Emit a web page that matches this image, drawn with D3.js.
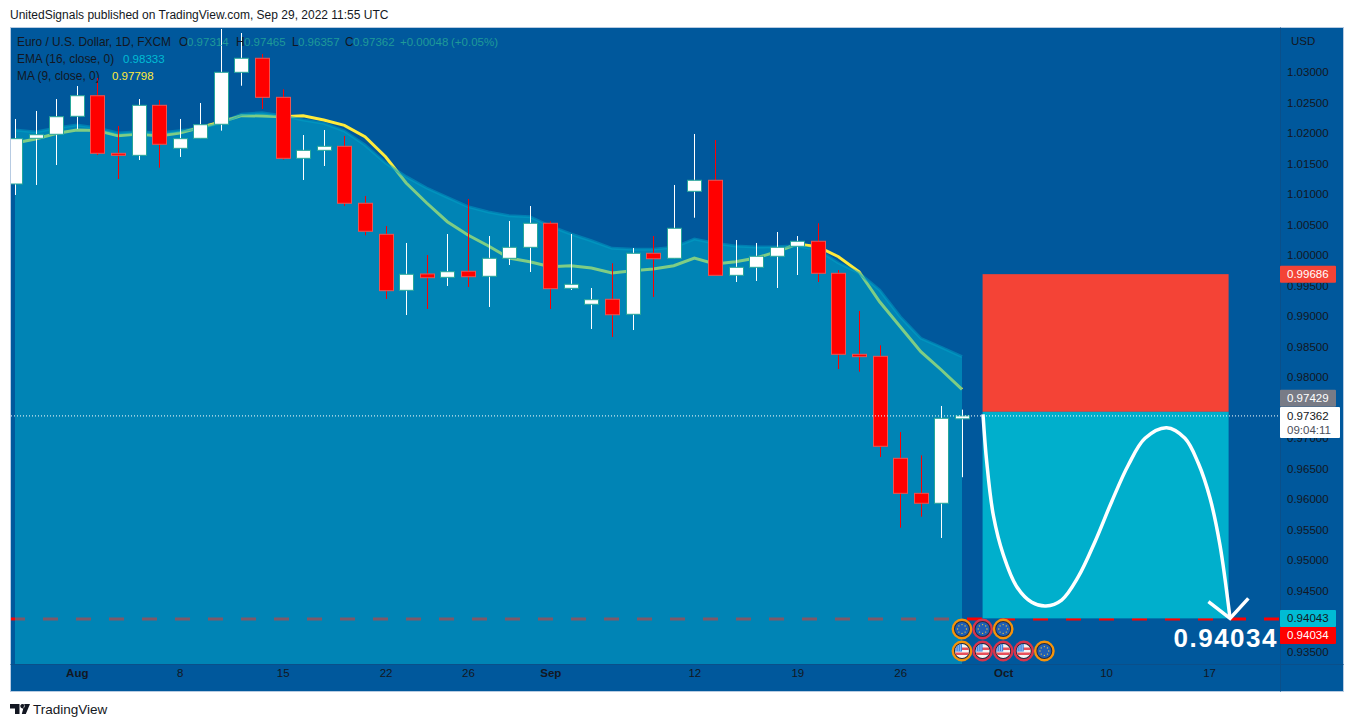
<!DOCTYPE html>
<html>
<head>
<meta charset="utf-8">
<script src="https://cdn.jsdelivr.net/npm/d3@7"></script>
<style>
html,body{margin:0;padding:0;background:#fff;overflow:hidden}
svg{display:block}
svg text{font-family:"Liberation Sans",Arial,sans-serif}
</style>
</head>
<body>
<div class="canvas"></div>
<script>
// trading days shown on the chart
const dates = ['Jul 27','Jul 28','Jul 29','Aug 1','Aug 2','Aug 3','Aug 4','Aug 5','Aug 8','Aug 9','Aug 10','Aug 11','Aug 12','Aug 15','Aug 16','Aug 17','Aug 18','Aug 19','Aug 22','Aug 23','Aug 24','Aug 25','Aug 26','Aug 29','Aug 30','Aug 31','Sep 1','Sep 2','Sep 5','Sep 6','Sep 7','Sep 8','Sep 9','Sep 12','Sep 13','Sep 14','Sep 15','Sep 16','Sep 19','Sep 20','Sep 21','Sep 22','Sep 23','Sep 26','Sep 27','Sep 28','Sep 29'];
const futureDates = ['Sep 30','Oct 3','Oct 4','Oct 5','Oct 6','Oct 7','Oct 10','Oct 11','Oct 12','Oct 13','Oct 14','Oct 17','Oct 18','Oct 19','Oct 20','Oct 21'];

const opens  = [1.01164,1.01913,1.01979,1.02274,1.02611,1.01667,1.01634,1.02454,1.01749,1.01913,1.02143,1.02995,1.03225,1.02585,1.01585,1.01716,1.01782,1.00848,1.00339,0.99421,0.99689,0.99634,0.99733,0.99651,0.99946,1.00126,1.0052,0.99454,0.99192,0.99274,0.99028,1.00028,0.99946,1.01044,1.01225,0.99667,0.99798,0.99979,1.00143,1.00225,0.997,0.98372,0.98339,0.96667,0.96093,0.9593,0.97314];
const highs  = [1.0223,1.02361,1.02557,1.0277,1.02902,1.02115,1.02557,1.02541,1.0223,1.02492,1.03705,1.03639,1.03295,1.02716,1.01967,1.02049,1.01951,1.00967,1.00475,1.00197,1.0,1.00344,1.00918,1.00311,1.00557,1.00803,1.00552,1.00344,0.99459,0.99864,1.00115,1.00311,1.01148,1.01984,1.01885,1.00246,1.00197,1.00377,1.00311,1.0052,0.99754,0.99082,0.9852,0.97098,0.96716,0.97525,0.97465];
const lows   = [1.00984,1.01148,1.01475,1.02066,1.01639,1.01246,1.01557,1.01431,1.01607,1.01913,1.02038,1.02775,1.02393,1.01562,1.0123,1.01459,1.00803,1.00323,0.99279,0.99016,0.99115,0.99492,0.99475,0.99148,0.99836,0.99721,0.99115,0.99426,0.98787,0.98656,0.9877,0.99311,0.99946,1.00611,0.99667,0.99557,0.99574,0.99459,0.99672,0.99557,0.98131,0.98087,0.96689,0.9553,0.9571,0.95361,0.96357];
const closes = [1.01907,1.01972,1.02267,1.02611,1.01667,1.01634,1.02454,1.01815,1.01907,1.02136,1.02995,1.03225,1.02585,1.01585,1.01716,1.01782,1.00848,1.00389,0.99415,0.99684,0.99628,0.99726,0.99644,0.99946,1.00126,1.0052,0.99448,0.9952,0.99267,0.99021,1.00028,0.99939,1.00438,1.01225,0.99667,0.99798,0.99979,1.00126,1.00225,0.997,0.98372,0.98333,0.96864,0.96093,0.9593,0.97323,0.97362];

const ema = [1.02049,1.02016,1.02082,1.02131,1.02082,1.02,1.02021,1.02,1.02038,1.02082,1.02164,1.02307,1.02333,1.02284,1.02213,1.02159,1.02033,1.01803,1.01508,1.01284,1.01098,1.00946,1.00792,1.00705,1.00644,1.00628,1.00475,1.00344,1.00234,1.0011,1.00093,1.00093,1.00126,1.00262,1.00192,1.00148,1.00131,1.00136,1.00152,1.00085,0.99869,0.99705,0.99426,0.98989,0.98634,0.98487,0.98333];
const ma  = [1.01836,1.01902,1.01992,1.02049,1.02041,1.01956,1.01984,1.01951,1.02,1.0209,1.0218,1.02284,1.02279,1.02267,1.02284,1.02213,1.02126,1.01939,1.01611,1.0118,1.00852,1.00546,1.00328,1.00148,0.99951,0.9989,0.99808,0.99825,0.99787,0.99705,0.99743,0.9977,0.99825,0.99951,0.99852,0.9989,0.99951,1.00054,1.0018,1.00136,0.99972,0.99726,0.99234,0.98825,0.98415,0.98115,0.97798];

// 0.975 and 0.94 are fully covered by the price labels, so they are left out
const priceTicks = [1.03,1.025,1.02,1.015,1.01,1.005,1,0.995,0.99,0.985,0.98,0.97,0.965,0.96,0.955,0.95,0.945,0.935];
const timeTicks = ['Aug 1','Aug 8','Aug 15','Aug 22','Aug 26','Sep 1','Sep 12','Sep 19','Sep 26','Oct 3','Oct 10','Oct 17'];
const timeLabels = ['Aug','8','15','22','26','Sep','12','19','26','Oct','10','17'];

// short position drawing
const entry = 0.97429, stopLoss = 0.99686, target = 0.94043, targetLine = 0.94034, lastPrice = 0.97362;
const posFrom = 47, posTo = 58.95;

// hand drawn curve, bar index / price
const curveBars   = [47.02,47.2,47.52,48.01,48.66,49.39,50.08,50.84,51.65,52.46,53.27,54.08,54.89,55.94,56.83,57.48,58.05,58.53,59.02];
const curvePrices = [0.97389,0.96611,0.95738,0.95082,0.94562,0.94307,0.94246,0.94344,0.94726,0.953,0.95956,0.96557,0.96995,0.97169,0.96995,0.96585,0.96011,0.95246,0.94044];
const arrowBars   = [57.97,59.02,59.91];
const arrowPrices = [0.94316,0.94044,0.94372];

// economic event badges
const euEvents = ['Sep 29','Sep 30','Oct 3','Oct 5'];
const euRing   = ['#f5930a','#d8344c','#f5930a','#f5930a'];
const euRow    = [0,0,0,1];
const usEvents = ['Sep 29','Sep 30','Oct 3','Oct 4'];
const usRing   = ['#f5930a','#d8344c','#d8344c','#d8344c'];

const width = 1354, height = 727;
const pane = {left:11, right:1280, top:28, bottom:664};
const frame = {left:10.5, right:1343.5, top:27.5, bottom:691.5};
const BG = '#00589c', TEXT = '#131722';
const FONT = 11.5;

const svg = d3.select('.canvas').append('svg')
    .attr('width',width)
    .attr('height',height);

const allDates = dates.concat(futureDates);
const x = d3.scaleLinear().domain([0,46]).range([15,962]);
const xDate = d3.scalePoint().domain(allDates).range([x(0),x(allDates.length-1)]);
const y = d3.scaleLinear().domain([1.03,0.935]).range([72,651.5]);
const bars = dates.map((d,i) => ({date:d,i:i,o:opens[i],h:highs[i],l:lows[i],c:closes[i]}));

// header and frame
svg.append('text').attr('x',10).attr('y',19).attr('font-size',12).attr('fill',TEXT)
    .text('UnitedSignals published on TradingView.com, Sep 29, 2022 11:55 UTC');

svg.append('rect')
    .attr('x',frame.left).attr('y',frame.top)
    .attr('width',frame.right-frame.left).attr('height',frame.bottom-frame.top)
    .attr('fill',BG).attr('stroke','#b7cbe2');

const defs = svg.append('defs');
defs.append('clipPath').attr('id','paneClip').append('rect')
    .attr('x',pane.left).attr('y',pane.top)
    .attr('width',pane.right-pane.left).attr('height',pane.bottom-pane.top);
defs.append('clipPath').attr('id','badgeClip').append('circle').attr('r',7);

const chart = svg.append('g').attr('clip-path','url(#paneClip)');

// target line and MA sit under the EMA fill, that is what turns them green
chart.append('line')
    .attr('x1',pane.left).attr('x2',pane.right)
    .attr('y1',y(targetLine)).attr('y2',y(targetLine))
    .attr('stroke','#ff0000').attr('stroke-width',3)
    .attr('stroke-dasharray','15 18').attr('stroke-dashoffset',1);

const valueLine = d3.line().x((d,i) => x(i)).y(d => y(d));
chart.append('path').datum(ma)
    .attr('d',valueLine)
    .attr('fill','none').attr('stroke','#ffeb3b').attr('stroke-width',3);

const emaArea = d3.area().x((d,i) => x(i)).y0(pane.bottom).y1(d => y(d));
chart.append('path').datum(ema)
    .attr('d',emaArea)
    .attr('fill','#00b0ce').attr('fill-opacity',0.5);
chart.append('path').datum(ema)
    .attr('d',valueLine)
    .attr('fill','none').attr('stroke','#00a4c8').attr('stroke-opacity',0.5).attr('stroke-width',3);

// position boxes
const boxX = x(posFrom), boxW = x(posTo)-x(posFrom);
chart.append('rect').attr('x',boxX).attr('width',boxW)
    .attr('y',y(stopLoss)).attr('height',y(entry)-y(stopLoss)).attr('fill','#f44336');
chart.append('rect').attr('x',boxX).attr('width',boxW)
    .attr('y',y(entry)).attr('height',y(target)-y(entry)).attr('fill','#00afcc');

// candles
const candles = chart.selectAll('.candle').data(bars).enter().append('g').attr('class','candle');
candles.append('line')
    .attr('x1',d => Math.round(x(d.i))+0.5).attr('x2',d => Math.round(x(d.i))+0.5)
    .attr('y1',d => y(d.h)).attr('y2',d => y(d.l))
    .attr('stroke',d => d.c>=d.o ? '#ffffff' : '#ff0000');
candles.append('rect')
    .attr('x',d => Math.round(x(d.i))-6.5).attr('width',14)
    .attr('y',d => y(Math.max(d.o,d.c))).attr('height',d => Math.max(2,Math.abs(y(d.o)-y(d.c))))
    .attr('fill',d => d.c>=d.o ? '#ffffff' : '#ff0000')
    .attr('stroke',d => d.c>=d.o ? '#26a69a' : '#ef5350');

// last price dotted line
chart.append('line')
    .attr('x1',pane.left).attr('x2',pane.right)
    .attr('y1',y(lastPrice)).attr('y2',y(lastPrice))
    .attr('stroke','#ffffff').attr('stroke-dasharray','1 2');

// drawing on top
const curve = d3.line().x(d => x(d[0])).y(d => y(d[1])).curve(d3.curveCatmullRom);
chart.append('path').datum(d3.zip(curveBars,curvePrices))
    .attr('d',curve)
    .attr('fill','none').attr('stroke','#ffffff').attr('stroke-width',3.5);
chart.append('path').datum(d3.zip(arrowBars,arrowPrices))
    .attr('d',d3.line().x(d => x(d[0])).y(d => y(d[1])))
    .attr('fill','none').attr('stroke','#ffffff').attr('stroke-width',3.5);

// separators
svg.append('line').attr('x1',pane.right+0.5).attr('x2',pane.right+0.5).attr('y1',frame.top).attr('y2',frame.bottom).attr('stroke','#0a4f8a');
svg.append('line').attr('x1',frame.left).attr('x2',frame.right).attr('y1',pane.bottom+0.5).attr('y2',pane.bottom+0.5).attr('stroke','#0a4f8a');

// axes
const yAxis = d3.axisRight(y).tickValues(priceTicks).tickSize(0).tickPadding(7).tickFormat(d3.format('.5f'));
const yG = svg.append('g').attr('transform',`translate(${pane.right},0)`).call(yAxis);
yG.select('.domain').remove();
yG.selectAll('text').attr('font-size',FONT).attr('fill',TEXT).style('font-family','"Liberation Sans",Arial,sans-serif');

const xAxis = d3.axisBottom(xDate).tickValues(timeTicks).tickSize(0).tickPadding(5)
    .tickFormat((d,i) => timeLabels[i]);
const xG = svg.append('g').attr('transform',`translate(0,${pane.bottom})`).call(xAxis);
xG.select('.domain').remove();
xG.selectAll('text').attr('font-size',FONT).attr('fill',TEXT)
    .style('font-family','"Liberation Sans",Arial,sans-serif')
    .attr('font-weight',(d,i) => isNaN(+timeLabels[i]) ? 'bold' : 'normal');

svg.append('text').attr('x',1291).attr('y',45).attr('font-size',FONT).attr('fill',TEXT).text('USD');

// price labels on the axis
const labels = [
    {v:stopLoss, bg:'#f44336', fg:'#ffffff', shift:0},
    {v:entry, bg:'#787b86', fg:'#ffffff', shift:-13.5},
    {v:target, bg:'#00bcd4', fg:'#131722', shift:0},
    {v:targetLine, bg:'#ff0000', fg:'#ffffff', shift:16.5}
];
const labelG = svg.selectAll('.plabel').data(labels).enter().append('g').attr('class','plabel');
labelG.append('rect')
    .attr('x',pane.right).attr('width',56).attr('height',17).attr('rx',1)
    .attr('y',d => y(d.v)-8.5+d.shift)
    .attr('fill',d => d.bg);
labelG.append('text')
    .attr('x',pane.right+7)
    .attr('y',d => y(d.v)+4+d.shift)
    .attr('font-size',FONT).attr('fill',d => d.fg)
    .text(d => d.v.toFixed(5));

svg.append('rect').attr('x',pane.right).attr('y',407).attr('width',60).attr('height',31).attr('rx',1).attr('fill','#ffffff');
svg.append('text').attr('x',pane.right+7).attr('y',420).attr('font-size',FONT).attr('fill',TEXT).text(lastPrice.toFixed(5));
svg.append('text').attr('x',pane.right+7).attr('y',434).attr('font-size',FONT).attr('fill','#4a4e5a').text('09:04:11');

svg.append('text').attr('x',1278).attr('y',647)
    .attr('text-anchor','end').attr('font-size',26).attr('font-weight','bold')
    .attr('letter-spacing',1.5).attr('fill','#ffffff')
    .text(targetLine.toFixed(5));

// event badges
function badgeBase(g, ring) {
    g.append('circle').attr('r',9.2).attr('fill','#1c2b45').attr('stroke',ring).attr('stroke-width',2.4);
}
const euroStars = d3.range(8);
const euG = svg.selectAll('.eu').data(euEvents).enter().append('g').attr('class','eu')
    .attr('transform',(d,i) => `translate(${xDate(d)},${euRow[i] ? 651 : 629})`);
euG.each(function(d,i){
    const g = d3.select(this);
    badgeBase(g, euRing[i]);
    g.append('circle').attr('r',7).attr('fill','#1f5fb4');
    g.selectAll('.star').data(euroStars).enter().append('circle')
        .attr('cx',k => 4.4*Math.cos(k*Math.PI/4)).attr('cy',k => 4.4*Math.sin(k*Math.PI/4))
        .attr('r',0.7).attr('fill','#e8c547');
});
const usG = svg.selectAll('.us').data(usEvents).enter().append('g').attr('class','us')
    .attr('transform',d => `translate(${xDate(d)},651)`);
usG.each(function(d,i){
    const g = d3.select(this);
    badgeBase(g, usRing[i]);
    const inner = g.append('g').attr('clip-path','url(#badgeClip)');
    inner.append('rect').attr('x',-8).attr('y',-8).attr('width',16).attr('height',16).attr('fill','#f4f4f4');
    inner.append('rect').attr('x',-8).attr('y',-3.5).attr('width',16).attr('height',2.5).attr('fill','#e8505b');
    inner.append('rect').attr('x',-8).attr('y',1.5).attr('width',16).attr('height',2.5).attr('fill','#e8505b');
    inner.append('rect').attr('x',-8).attr('y',-8).attr('width',8).attr('height',8.5).attr('fill','#3b82e0');
    inner.selectAll('.dot').data(d3.range(9)).enter().append('rect')
        .attr('x',k => -6.5+(k%3)*2.2).attr('y',k => -5.5+Math.floor(k/3)*2)
        .attr('width',1).attr('height',1).attr('fill','#ffffff');
});

// legend
const legend = svg.append('g').attr('font-size',11.9);
legend.append('text').attr('x',17).attr('y',46).attr('fill',TEXT).text('Euro / U.S. Dollar, 1D, FXCM');
const ohlcLetters = ['O','H','L','C'];
const ohlcValues = ['0.97314','0.97465','0.96357','0.97362'];
const ohlcX = [179,236,292,345];
const GREEN = '#1f9a98';
ohlcLetters.forEach((l,i) => {
    legend.append('text').attr('x',ohlcX[i]).attr('y',46).attr('fill',TEXT).text(l);
    legend.append('text').attr('x',ohlcX[i]+(l==='L'?6:8)).attr('y',46).attr('font-size',FONT).attr('fill',GREEN).text(ohlcValues[i]);
});
legend.append('text').attr('x',400).attr('y',46).attr('font-size',FONT).attr('fill',GREEN).text('+0.00048');
legend.append('text').attr('x',451).attr('y',46).attr('font-size',FONT).attr('fill',GREEN).text('(+0.05%)');
legend.append('text').attr('x',17).attr('y',63).attr('fill',TEXT).text('EMA (16, close, 0)');
legend.append('text').attr('x',123).attr('y',63).attr('font-size',FONT).attr('fill','#00bcd4').text('0.98333');
legend.append('text').attr('x',17).attr('y',80).attr('fill',TEXT).text('MA (9, close, 0)');
legend.append('text').attr('x',112).attr('y',80).attr('font-size',FONT).attr('fill','#ffeb3b').text('0.97798');

// footer
svg.append('path')
    .attr('d','M10 704h9.5v10h-4.5v-5.5h-5zM22.5 704a2.2 2.2 0 1 0 .01 0zM24.5 704h5.5l-4.2 10h-4z')
    .attr('fill',TEXT);
svg.append('text').attr('x',33).attr('y',714).attr('font-size',13.5).attr('fill',TEXT).text('TradingView');
</script>
</body>
</html>
